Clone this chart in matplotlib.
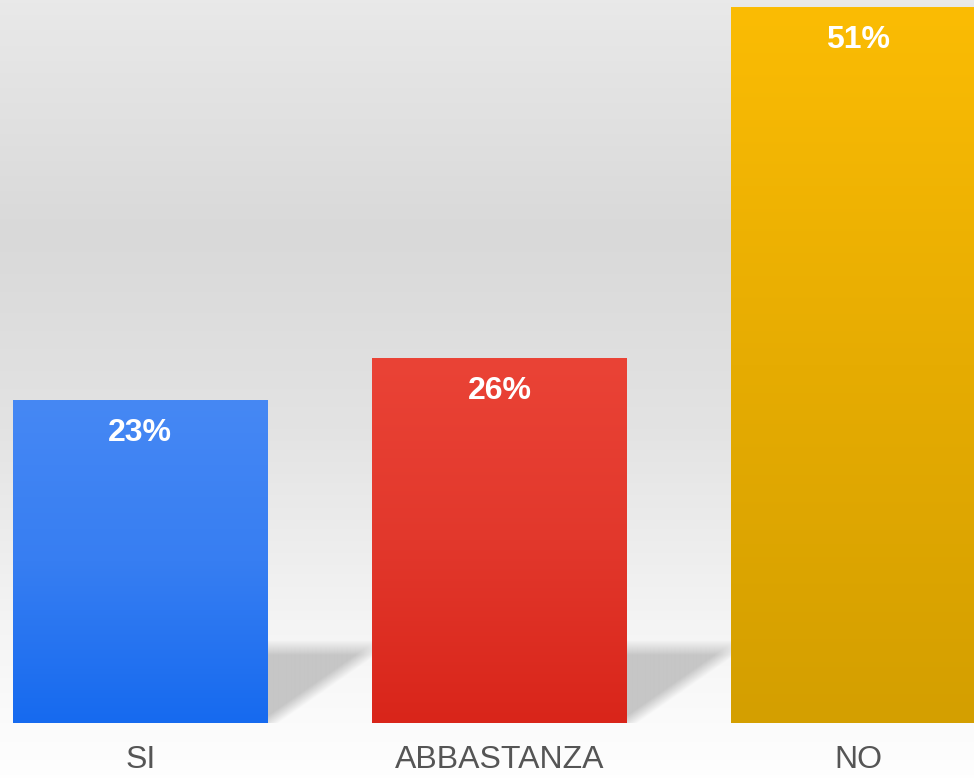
import numpy as np
import matplotlib.pyplot as plt
from matplotlib.colors import LinearSegmentedColormap, to_rgb

categories = ["SI", "ABBASTANZA", "NO"]
values = [23, 26, 51]
labels = ["23%", "26%", "51%"]
# bar gradients: bottom, middle, top
bar_colors = [
    ["#166aef", "#377ef2", "#4688f4"],
    ["#d9251a", "#e2382c", "#ea4336"],
    ["#d49f00", "#e6ac02", "#fbbc04"],
]

plt.rcParams['font.family'] = ['Liberation Sans', 'DejaVu Sans']

fig = plt.figure(figsize=(9.74, 7.78), dpi=100)
ax = fig.add_axes([0, 0, 1, 1])
ax.set_axis_off()

width = 0.71
x = np.arange(len(categories))
xmin, xmax = -0.391, 2.322
ymin, ymax = -3.92, 51.5
ax.set_xlim(xmin, xmax)
ax.set_ylim(ymin, ymax)
px_x = 974 / (xmax - xmin)
px_y = 778 / (ymax - ymin)

# background gradient (bottom -> top)
bg = LinearSegmentedColormap.from_list("bg", [
    (0.0, "#fefefe"), (0.07, "#fbfbfb"), (0.2, "#f4f4f4"),
    (0.45, "#e3e3e3"), (0.7, "#d9d9d9"), (1.0, "#e9e9e9")])
grad = np.linspace(0, 1, 256).reshape(-1, 1)
ax.imshow(grad, cmap=bg, origin="lower", aspect="auto",
          extent=(xmin, xmax, ymin, ymax), zorder=0)

# soft floor shadows between bars
sh_top = 5.9
sh_diag = 5.2
for i in range(len(categories) - 1):
    xr = x[i] + width / 2
    xl = x[i + 1] - width / 2
    nx = int((xl - xr) * px_x)
    ny = int(sh_top * px_y) + 2
    gx, gy = np.meshgrid(np.arange(nx) + 0.5, np.arange(ny) + 0.5)
    # diagonal from (0,0) to (nx, sh_diag*px_y), shadow above it
    x1, y1 = nx, sh_diag * px_y
    d = (gy * x1 - gx * y1) / np.hypot(x1, y1)
    a_diag = np.clip(0.5 + d / 12, 0, 1)
    a_top = np.clip((sh_top * px_y - gy) / 15, 0, 1)
    alpha = a_diag * a_top * 0.95
    rgba = np.zeros((ny, nx, 4))
    rgba[..., :3] = to_rgb("#c4c4c4")
    rgba[..., 3] = alpha
    ax.imshow(rgba, origin="lower", aspect="auto", interpolation="bilinear",
              extent=(xr, xl, 0, ny / px_y), zorder=1)

# bars with vertical gradient
bars = ax.bar(x, values, width=width, color="none", edgecolor="none", zorder=2)
for b, cols in zip(bars, bar_colors):
    cm = LinearSegmentedColormap.from_list("b", cols)
    im = ax.imshow(grad, cmap=cm, origin="lower", aspect="auto",
                   extent=(b.get_x(), b.get_x() + b.get_width(), 0, b.get_height()),
                   zorder=3)
    im.set_clip_path(b)

for xi, v, lab in zip(x, values, labels):
    ax.annotate(lab, (xi, v), xytext=(0, -24), textcoords="offset points",
                ha="center", va="center", color="white", fontsize=23,
                fontweight="bold", zorder=4)

for xi, c in zip(x, categories):
    ax.text(xi, -2.64, c, ha="center", va="center", color="#555555",
            fontsize=23, zorder=4)

fig.savefig("out.png", dpi=100)
